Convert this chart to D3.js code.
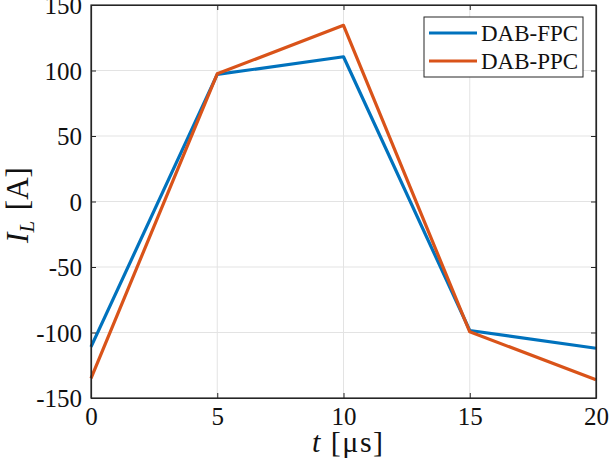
<!DOCTYPE html>
<html><head><meta charset="utf-8">
<script src="https://cdn.jsdelivr.net/npm/d3@7"></script>
<style>body{margin:0;background:#fff}svg{display:block}</style>
</head><body>
<script>
const times = [0, 5, 10, 15, 20];
const fpc = [-111, 97, 110.5, -98.5, -112];
const ppc = [-135, 97.5, 134.5, -99.5, -136];
const seriesNames = ["DAB-FPC", "DAB-PPC"];
const seriesColors = ["#0072BD", "#D95319"];
const xTicks = [0, 5, 10, 15, 20];
const yTicks = [-150, -100, -50, 0, 50, 100, 150];

const W = 612, H = 473;
const m = {l: 91, r: 596, t: 5, b: 398};
const svg = d3.select("body").append("svg").attr("width", W).attr("height", H);
const x = d3.scaleLinear().domain([0, 20]).range([m.l, m.r]);
const y = d3.scaleLinear().domain([-150, 150]).range([m.b, m.t]);
const font = "'Liberation Serif','Times New Roman',serif";
const fmt = d => String(d);

// grid
const g = svg.append("g");
g.selectAll(".gx").data(xTicks.slice(1, -1)).enter().append("line")
  .attr("x1", d => x(d)).attr("x2", d => x(d)).attr("y1", m.t).attr("y2", m.b)
  .attr("stroke", "#e3e3e3").attr("stroke-width", 1);
g.selectAll(".gy").data(yTicks.slice(1, -1)).enter().append("line")
  .attr("y1", d => y(d)).attr("y2", d => y(d)).attr("x1", m.l).attr("x2", m.r)
  .attr("stroke", "#e3e3e3").attr("stroke-width", 1);

// lines
const line = d3.line().x((d, i) => x(times[i])).y(d => y(d));
[fpc, ppc].forEach((s, k) => {
  svg.append("path").datum(s).attr("d", line).attr("fill", "none")
    .attr("stroke", seriesColors[k]).attr("stroke-width", 3.2).attr("stroke-linejoin", "round");
});

// axes (ticks inward)
const ax = svg.append("g").attr("transform", `translate(0,${m.b})`)
  .call(d3.axisBottom(x).tickValues(xTicks).tickFormat(fmt).tickSizeInner(-5).tickSizeOuter(0).tickPadding(9));
const axT = svg.append("g").attr("transform", `translate(0,${m.t})`)
  .call(d3.axisTop(x).tickValues(xTicks).tickSizeInner(-5).tickSizeOuter(0).tickFormat(""));
const ay = svg.append("g").attr("transform", `translate(${m.l},0)`)
  .call(d3.axisLeft(y).tickValues(yTicks).tickFormat(fmt).tickSizeInner(-5).tickSizeOuter(0).tickPadding(9));
const ayR = svg.append("g").attr("transform", `translate(${m.r},0)`)
  .call(d3.axisRight(y).tickValues(yTicks).tickSizeInner(-5).tickSizeOuter(0).tickFormat(""));
[ax, axT, ay, ayR].forEach(a => {
  a.select(".domain").attr("stroke", "#262626").attr("stroke-width", 1.2);
  a.selectAll(".tick line").attr("stroke", "#262626");
  a.selectAll("text").attr("font-family", font).attr("font-size", 25).attr("fill", "#111");
});
ax.selectAll("text").attr("dy", "0.71em");
ay.selectAll("text").attr("dy", "0.35em");
svg.append("rect").attr("x", m.l).attr("y", m.t).attr("width", m.r - m.l).attr("height", m.b - m.t)
  .attr("fill", "none").attr("stroke", "#262626").attr("stroke-width", 1.2);

// axis labels
const xl = svg.append("text").attr("x", 312).attr("y", 452)
  .attr("text-anchor", "start").attr("font-family", font).attr("font-size", 30)
  .attr("letter-spacing", 1.5).attr("fill", "#111");
xl.append("tspan").attr("font-style", "italic").text("t");
xl.append("tspan").text(" [μs]");

const yl = svg.append("text").attr("transform", `translate(28,205) rotate(-90)`)
  .attr("text-anchor", "middle").attr("font-family", font).attr("font-size", 31)
  .attr("word-spacing", 3).attr("fill", "#111");
yl.append("tspan").attr("font-style", "italic").text("I");
yl.append("tspan").attr("font-style", "italic").attr("font-size", 21).attr("dy", 6).text("L");
yl.append("tspan").attr("dy", -6).text(" [A]");

// legend
const lg = svg.append("g");
lg.append("rect").attr("x", 424).attr("y", 17).attr("width", 159).attr("height", 60)
  .attr("fill", "#fff").attr("stroke", "#262626").attr("stroke-width", 1);
seriesNames.forEach((n, i) => {
  const yy = 33 + i * 28;
  lg.append("line").attr("x1", 429).attr("x2", 477).attr("y1", yy).attr("y2", yy)
    .attr("stroke", seriesColors[i]).attr("stroke-width", 3.2);
  lg.append("text").attr("x", 481).attr("y", yy).attr("dy", "0.35em")
    .attr("font-family", font).attr("font-size", 23).attr("fill", "#111").text(n);
});
</script>
</body></html>
